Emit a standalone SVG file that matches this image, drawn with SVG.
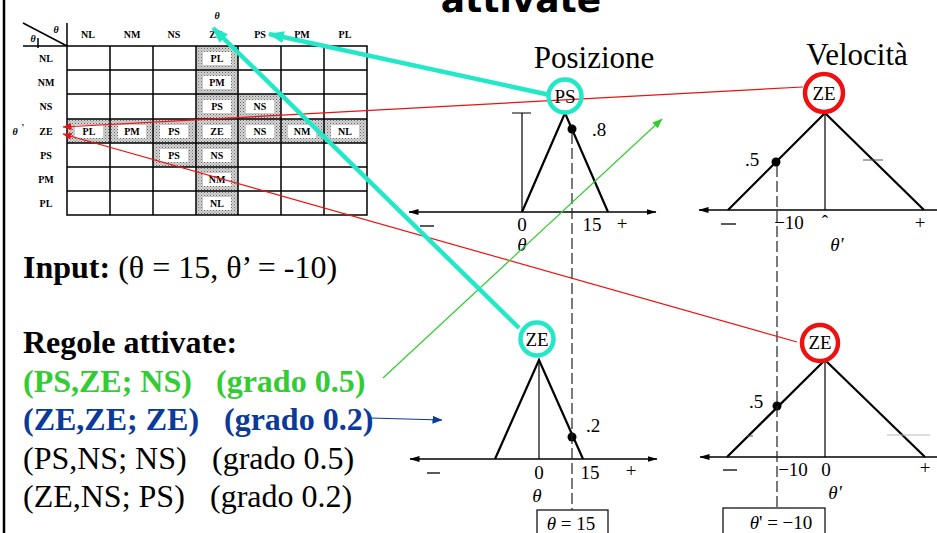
<svg xmlns="http://www.w3.org/2000/svg" width="937" height="533" viewBox="0 0 937 533">
<defs>
<pattern id="stip" width="3" height="3" patternUnits="userSpaceOnUse">
<rect width="3" height="3" fill="#d4d4d4"/>
<rect x="0" y="0" width="1" height="1" fill="#6a6a6a"/>
<rect x="1.5" y="1.5" width="1" height="1" fill="#8a8a8a"/>
</pattern>
<marker id="ac" markerWidth="16" markerHeight="12" refX="15" refY="6" orient="auto" markerUnits="userSpaceOnUse"><path d="M0,0 L16,6 L0,12 z" fill="#22e8c8"/></marker>
<marker id="ar" markerWidth="9" markerHeight="7" refX="8.5" refY="3.5" orient="auto" markerUnits="userSpaceOnUse"><path d="M0,0 L9,3.5 L0,7 z" fill="#ee1111"/></marker>
<marker id="ag" markerWidth="10" markerHeight="8" refX="9.5" refY="4" orient="auto" markerUnits="userSpaceOnUse"><path d="M0,0 L10,4 L0,8 z" fill="#33cc33"/></marker>
<marker id="ab" markerWidth="10" markerHeight="8" refX="9.5" refY="4" orient="auto" markerUnits="userSpaceOnUse"><path d="M0,0 L10,4 L0,8 z" fill="#0a3a9a"/></marker>
<marker id="ax" markerWidth="10" markerHeight="6" refX="9.5" refY="3" orient="auto-start-reverse" markerUnits="userSpaceOnUse"><path d="M0,0 L10,3 L0,6 z" fill="#000"/></marker>
</defs>
<style>
.tb{font-family:"Liberation Serif",serif;font-weight:bold;font-size:10px;text-anchor:middle;fill:#000}
.grid{stroke:#000;stroke-width:1.5;fill:none}
.lbl{fill:#fff}
.tri{stroke:#000;stroke-width:2.2;fill:none;stroke-linejoin:miter}
.thin{stroke:#000;stroke-width:1.2;fill:none}
.axis{stroke:#000;stroke-width:1.3;fill:none}
.dash{stroke:#222;stroke-width:1.2;stroke-dasharray:11 4;fill:none}
.pl{font-family:"Liberation Serif",serif;font-size:19px;fill:#000;text-anchor:middle}
.big{font-family:"Liberation Serif",serif;font-size:32px;fill:#000}
.bold{font-weight:bold}
.hd{font-family:"Liberation Serif",serif;font-size:31px;fill:#000;text-anchor:middle}
.cyc{stroke:#22e8c8;stroke-width:4.5;fill:none}
.rdc{stroke:#ee1111;stroke-width:4.5;fill:none}
</style>
<rect width="937" height="533" fill="#fff"/>
<line x1="4" y1="0" x2="4" y2="533" stroke="#000" stroke-width="2.5"/>
<g id="title">
<text x="521" y="12" font-family="DejaVu Sans, sans-serif" font-weight="bold" font-size="36" text-anchor="middle">attivate</text>
</g>
<g id="table">
<rect x="67" y="46" width="300" height="169" fill="#fff"/>
<rect x="196" y="46" width="42" height="169" fill="url(#stip)"/>
<rect x="67" y="119" width="300" height="24" fill="url(#stip)"/>
<rect x="238" y="94" width="43" height="25" fill="url(#stip)"/>
<rect x="153" y="143" width="43" height="24" fill="url(#stip)"/>
<path class="grid" d="M23,46 H367 V215 H67 V23 M67,70 H367 M67,94 H367 M67,119 H367 M67,143 H367 M67,167 H367 M67,191 H367 M110,46 V215 M153,46 V215 M196,46 V215 M238,46 V215 M281,46 V215 M324,46 V215 M23,23 L67,46"/>
<text x="217" y="19" class="tb" font-style="italic" font-size="11">θ</text>
<text x="56" y="33" class="tb" font-style="italic" font-size="11">θ</text>
<text x="33" y="42" class="tb" font-style="italic" font-size="10">θ</text>
<line x1="38" y1="38" x2="38" y2="48" stroke="#000" stroke-width="1.5"/>
<text x="88" y="38" class="tb">NL</text>
<text x="132" y="38" class="tb">NM</text>
<text x="174" y="38" class="tb">NS</text>
<text x="216" y="38" class="tb">ZE</text>
<text x="260" y="38" class="tb">PS</text>
<text x="302" y="38" class="tb">PM</text>
<text x="345" y="38" class="tb">PL</text>
<text x="46" y="62" class="tb">NL</text>
<text x="46" y="86" class="tb">NM</text>
<text x="46" y="110" class="tb">NS</text>
<text x="46" y="135" class="tb">ZE</text>
<text x="46" y="159" class="tb">PS</text>
<text x="46" y="183" class="tb">PM</text>
<text x="46" y="207" class="tb">PL</text>
<text x="15" y="135" class="tb" font-style="italic" font-size="11">θ</text>
<text x="23" y="131" class="tb" font-size="11">'</text>
<g>
<rect class="lbl" x="203" y="52" width="28" height="13"/><text x="217" y="62" class="tb">PL</text>
<rect class="lbl" x="203" y="76" width="28" height="13"/><text x="217" y="86" class="tb">PM</text>
<rect class="lbl" x="203" y="100" width="28" height="13"/><text x="217" y="110" class="tb">PS</text>
<rect class="lbl" x="246" y="100" width="28" height="13"/><text x="260" y="110" class="tb">NS</text>
<rect class="lbl" x="75" y="125" width="28" height="13"/><text x="89" y="135" class="tb">PL</text>
<rect class="lbl" x="118" y="125" width="28" height="13"/><text x="132" y="135" class="tb">PM</text>
<rect class="lbl" x="160" y="125" width="28" height="13"/><text x="174" y="135" class="tb">PS</text>
<rect class="lbl" x="203" y="125" width="28" height="13"/><text x="217" y="135" class="tb">ZE</text>
<rect class="lbl" x="246" y="125" width="28" height="13"/><text x="260" y="135" class="tb">NS</text>
<rect class="lbl" x="288" y="125" width="28" height="13"/><text x="302" y="135" class="tb">NM</text>
<rect class="lbl" x="331" y="125" width="28" height="13"/><text x="345" y="135" class="tb">NL</text>
<rect class="lbl" x="160" y="149" width="28" height="13"/><text x="174" y="159" class="tb">PS</text>
<rect class="lbl" x="203" y="149" width="28" height="13"/><text x="217" y="159" class="tb">NS</text>
<rect class="lbl" x="203" y="173" width="28" height="13"/><text x="217" y="183" class="tb">NM</text>
<rect class="lbl" x="203" y="197" width="28" height="13"/><text x="217" y="207" class="tb">NL</text>
</g>
</g>
<g id="input">
<text x="23" y="278" class="big" font-size="33"><tspan class="bold">Input:</tspan> (θ = 15, θ’ = -10)</text>
</g>
<g id="rules">
<text x="23" y="353" class="big bold">Regole attivate:</text>
<text x="23" y="392" class="big bold" style="fill:#33cc33">(PS,ZE; NS)</text>
<text x="216" y="392" class="big bold" style="fill:#33cc33">(grado 0.5)</text>
<text x="23" y="430" class="big bold" style="fill:#0a3a9a">(ZE,ZE; ZE)</text>
<text x="224" y="430" class="big bold" style="fill:#0a3a9a">(grado 0.2)</text>
<text x="23" y="469" class="big">(PS,NS; NS)</text>
<text x="212" y="469" class="big">(grado 0.5)</text>
<text x="23" y="507" class="big">(ZE,NS; PS)</text>
<text x="210" y="507" class="big">(grado 0.2)</text>
</g>
<g id="pos-top">
<text x="594" y="68" class="hd">Posizione</text>
<line class="axis" x1="409" y1="212" x2="656" y2="212" marker-start="url(#ax)" marker-end="url(#ax)"/>
<path class="tri" d="M522,212 L565,113 L608,212"/>
<path class="thin" d="M522,113 V212 M512,113 H531"/>
<circle cx="572" cy="129" r="4.5" fill="#000"/>
<text x="599" y="136" class="pl">.8</text>
<line x1="420" y1="226" x2="434" y2="226" stroke="#000" stroke-width="1.3"/>
<text x="522" y="231" class="pl">0</text>
<text x="592" y="231" class="pl">15</text>
<text x="622" y="230" class="pl">+</text>
<text x="522" y="251" class="pl" font-style="italic">θ</text>
</g>
<g id="vel-top">
<text x="857" y="65" class="hd">Velocità</text>
<line class="axis" x1="699" y1="210" x2="937" y2="210" marker-start="url(#ax)"/>
<path class="tri" d="M728,210 L825,113 L924,210"/>
<line class="thin" x1="825" y1="113" x2="825" y2="210"/>
<circle cx="776" cy="162" r="4.5" fill="#000"/>
<text x="752" y="166" class="pl">.5</text>
<line x1="863" y1="160" x2="883" y2="160" stroke="#555" stroke-width="1"/>
<line x1="721" y1="224" x2="736" y2="224" stroke="#000" stroke-width="1.3"/>
<text x="789" y="229" class="pl">−10</text>
<text x="825" y="228" class="pl" font-size="14">ˆ</text>
<text x="920" y="229" class="pl">+</text>
<text x="837" y="251" class="pl" font-size="22" font-style="italic">θ′</text>
</g>
<g id="pos-bottom">
<line class="axis" x1="410" y1="459" x2="657" y2="459" marker-start="url(#ax)" marker-end="url(#ax)"/>
<path class="tri" d="M495,459 L539,360 L583,459"/>
<line class="thin" x1="539" y1="360" x2="539" y2="459"/>
<circle cx="572" cy="437" r="4.5" fill="#000"/>
<text x="593" y="432" class="pl">.2</text>
<line x1="427" y1="473" x2="440" y2="473" stroke="#000" stroke-width="1.3"/>
<text x="539" y="479" class="pl">0</text>
<text x="590" y="479" class="pl">15</text>
<text x="631" y="477" class="pl">+</text>
<text x="537" y="502" class="pl" font-style="italic">θ</text>
<rect x="537" y="510" width="71" height="30" fill="#fff" stroke="#000" stroke-width="1.2"/>
<text x="571" y="530" class="pl" font-size="21"><tspan font-style="italic">θ</tspan> = 15</text>
</g>
<g id="vel-bottom">
<line class="axis" x1="700" y1="457" x2="937" y2="457" marker-start="url(#ax)"/>
<path class="tri" d="M727,457 L825,360 L925,457"/>
<line class="thin" x1="825" y1="360" x2="825" y2="457"/>
<circle cx="777" cy="406" r="4.5" fill="#000"/>
<text x="756" y="408" class="pl">.5</text>
<line x1="887" y1="435" x2="930" y2="435" stroke="#bbb" stroke-width="1"/>
<line x1="747" y1="436" x2="753" y2="436" stroke="#555" stroke-width="1"/>
<line x1="723" y1="470" x2="737" y2="470" stroke="#000" stroke-width="1.3"/>
<text x="793" y="476" class="pl">−10</text>
<text x="826" y="476" class="pl">0</text>
<text x="925" y="474" class="pl">+</text>
<text x="835" y="499" class="pl" font-style="italic">θ'</text>
<rect x="723" y="508" width="102" height="30" fill="#fff" stroke="#000" stroke-width="1.2"/>
<text x="781" y="529" class="pl" font-size="21"><tspan font-style="italic">θ</tspan>' = −10</text>
</g>
<g id="connectors">
<line class="dash" x1="572" y1="133" x2="572" y2="510"/>
<line class="dash" x1="777" y1="166" x2="777" y2="508"/>
<line x1="803" y1="87" x2="63" y2="127" stroke="#ee1111" stroke-width="1.2" marker-end="url(#ar)"/>
<line x1="797" y1="342" x2="63" y2="134" stroke="#ee1111" stroke-width="1.2" marker-end="url(#ar)"/>
<line x1="383" y1="378" x2="662" y2="119" stroke="#33cc33" stroke-width="1.2" marker-end="url(#ag)"/>
<line x1="370" y1="418" x2="442" y2="420" stroke="#0a3a9a" stroke-width="1.2" marker-end="url(#ab)"/>
<line x1="550" y1="95" x2="269" y2="34" stroke="#22e8c8" stroke-width="4.5" marker-end="url(#ac)"/>
<line x1="519" y1="328" x2="213" y2="28" stroke="#22e8c8" stroke-width="4.5" marker-end="url(#ac)"/>
</g>
<g id="circles">
<circle class="cyc" cx="565" cy="96" r="16.5"/>
<text x="565" y="103" class="pl">PS</text>
<circle class="cyc" cx="537" cy="339" r="16.5"/>
<text x="537" y="346" class="pl" font-size="16">ZE</text>
<circle class="rdc" cx="824" cy="93" r="19"/>
<text x="824" y="100" class="pl" font-size="16">ZE</text>
<circle class="rdc" cx="820" cy="343" r="18"/>
<text x="820" y="349" class="pl" font-size="16">ZE</text>
</g>
</svg>
